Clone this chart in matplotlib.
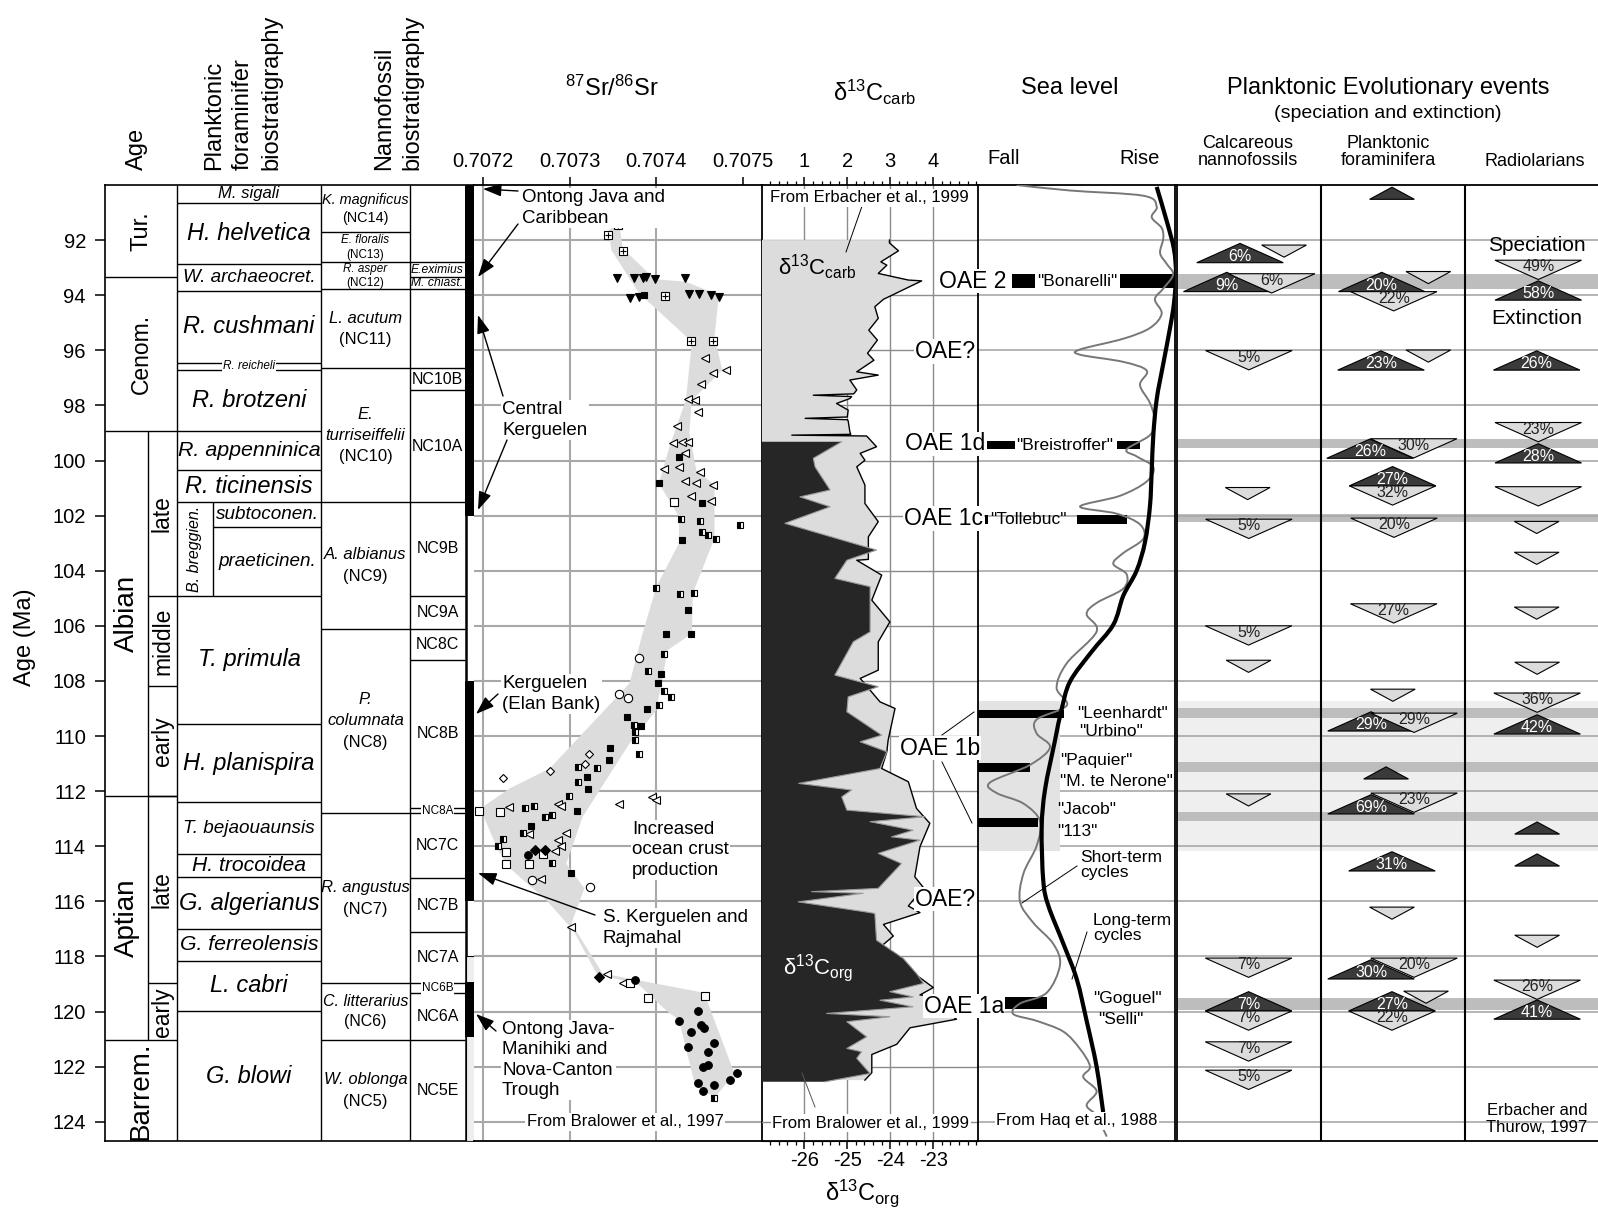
import matplotlib
matplotlib.use('Agg')
import matplotlib.pyplot as plt
from matplotlib.patches import Polygon, PathPatch
from matplotlib.path import Path
from matplotlib.ticker import MultipleLocator

plt.rcParams['font.family'] = ['Liberation Sans', 'DejaVu Sans']
plt.rcParams['mathtext.default'] = 'regular'
plt.rcParams['axes.unicode_minus'] = False

# ---------------------------------------------------------------- data
age_ticks = [92, 94, 96, 98, 100, 102, 104, 106, 108, 110, 112, 114, 116, 118, 120, 122, 124]
AGE_TOP, AGE_BOT = 90.0, 124.7

stage_names = ['Tur.', 'Cenom.', 'Albian', 'Aptian', 'Barrem.']
stage_bounds = [90.0, 93.35, 98.92, 112.17, 121.04, 124.7]
substage_names = ['late', 'middle', 'early', 'late', 'early']
substage_bounds = [98.92, 104.9, 108.2, 112.17, 118.98, 121.04]

foram_names = ['M. sigali', 'H. helvetica', 'W. archaeocret.', 'R. cushmani', 'R. reicheli',
               'R. brotzeni', 'R. appenninica', 'R. ticinensis', 'subtoconen.', 'praeticinen.',
               'T. primula', 'H. planispira', 'T. bejaouaunsis', 'H. trocoidea', 'G. algerianus',
               'G. ferreolensis', 'L. cabri', 'G. blowi']
foram_bounds = [90.0, 90.65, 92.88, 93.85, 96.45, 96.72, 98.92, 100.35, 101.52, 102.42,
                104.9, 109.58, 112.39, 114.29, 115.13, 117.0, 118.15, 119.99, 124.7]
breggien_name = 'B. breggien.'
breggien_range = [101.52, 104.9]

nanno_names = ['K. magnificus', 'E. floralis', 'R. asper', 'L. acutum', 'E.\nturriseiffelii',
               'A. albianus', 'P.\ncolumnata', 'R. angustus', 'C. litterarius', 'W. oblonga']
nanno_codes = ['(NC14)', '(NC13)', '(NC12)', '(NC11)', '(NC10)', '(NC9)', '(NC8)', '(NC7)',
               '(NC6)', '(NC5)']
nanno_bounds = [90.0, 91.72, 92.81, 93.79, 96.66, 101.52, 106.1, 112.81, 118.98, 121.04, 124.7]

nc_names = ['', 'E.eximius', 'M. chiast.', '', 'NC10B', 'NC10A', 'NC9B', 'NC9A', 'NC8C', 'NC8B',
            'NC8A', 'NC7C', 'NC7B', 'NC7A', 'NC6B', 'NC6A', 'NC5E']
nc_bounds = [90.0, 92.81, 93.33, 93.79, 96.66, 97.45, 101.52, 104.9, 106.1, 107.25, 112.6,
             112.81, 115.17, 117.13, 118.98, 119.34, 121.04, 124.7]

lip_top = [90.0, 108.0, 118.92]
lip_bot = [102.0, 116.0, 120.92]
lip_light = [118.0, 124.7]

# 87Sr/86Sr
sr_ticks = [0.7072, 0.7073, 0.7074, 0.7075]
sr_ticklabels = ['0.7072', '0.7073', '0.7074', '0.7075']
sr_env_age = [91.64, 91.34, 92.29, 93.42, 93.51, 94.0, 95.51, 96.72, 97.81, 99.01, 100.35, 100.89,
              102.82, 104.82, 106.28, 106.88, 109.06, 110.27, 112.93, 114.63, 115.53, 116.8,
              118.62, 119.32, 122.25, 123.13,
              122.6, 120.31, 119.95, 119.04, 118.62, 117.05, 115.96, 114.69, 113.9, 112.63,
              111.9, 111.18, 108.09, 106.28, 104.58, 103.01, 102.04, 100.83, 99.5, 97.81, 95.69,
              93.93, 92.36]
sr_env_val = [0.707345, 0.707357, 0.707361, 0.707398, 0.707434, 0.707472, 0.707467, 0.707476,
              0.707441, 0.707438, 0.707446, 0.707467, 0.707467, 0.707442, 0.707441, 0.707413,
              0.707400, 0.707369, 0.707315, 0.707296, 0.707317, 0.707302, 0.707338, 0.707455,
              0.707490, 0.707467,
              0.707444, 0.707426, 0.707411, 0.707380, 0.707331, 0.707304, 0.707273, 0.707227,
              0.707214, 0.707197, 0.707231, 0.707277, 0.707369, 0.707384, 0.707400, 0.707426,
              0.707426, 0.707403, 0.707415, 0.707434, 0.707441, 0.707380, 0.707348]

sr_boxplus_age = [91.47, 91.83, 92.41, 94.03, 95.65, 95.65]
sr_boxplus_val = [0.707356, 0.707344, 0.707361, 0.70741, 0.70744, 0.707465]
sr_tridown_age = [93.39, 93.39, 93.39, 93.35, 93.42, 93.39, 93.94, 93.94, 94.0, 94.1, 94.08, 94.08]
sr_tridown_val = [0.707354, 0.707374, 0.707384, 0.707388, 0.707398, 0.707433, 0.707438, 0.707449,
                  0.707463, 0.707369, 0.70738, 0.707472]
sr_sqfill_age = [94.0, 99.89, 100.81, 101.53, 102.89, 105.41, 106.3, 106.3, 107.75, 108.07, 109.03,
                 109.3, 109.64, 110.43, 110.87, 111.48, 111.94, 112.72, 113.27, 114.97]
sr_sqfill_val = [0.707386, 0.707426, 0.707403, 0.707453, 0.707429, 0.707437, 0.707411, 0.70744,
                 0.707405, 0.707402, 0.707389, 0.707366, 0.707382, 0.707347, 0.707345, 0.70732,
                 0.707321, 0.707308, 0.707255, 0.707301]
sr_trileft_age = [96.27, 96.72, 96.84, 97.24, 97.75, 97.81, 98.25, 98.75, 99.38, 99.32, 99.32, 99.72,
                  100.32, 100.25, 100.41, 100.74, 100.83, 100.89, 101.28, 101.46, 112.45, 112.23,
                  112.33, 112.57, 112.45, 112.53, 113.57, 113.53, 113.78, 114.01, 114.19, 115.2,
                  116.93, 118.64, 118.96]
sr_trileft_val = [0.707456, 0.70748, 0.707465, 0.707451, 0.707436, 0.707444, 0.707448, 0.707424,
                  0.707419, 0.70743, 0.707437, 0.707433, 0.707409, 0.707426, 0.70745, 0.707433,
                  0.707446, 0.707465, 0.70744, 0.707463, 0.707357, 0.707395, 0.707399, 0.70723,
                  0.707286, 0.70729, 0.707253, 0.707296, 0.707287, 0.70729, 0.707283, 0.707267,
                  0.707302, 0.707343, 0.707362]
sr_sqopen_age = [101.5, 112.72, 112.75, 114.22, 114.28, 114.63, 114.63, 118.96, 119.51, 119.43]
sr_sqopen_val = [0.70742, 0.707195, 0.70722, 0.707226, 0.707269, 0.707227, 0.707253, 0.707369,
                 0.70739, 0.707456]
sr_sqhalf_age = [102.13, 102.2, 102.35, 102.59, 102.71, 102.85, 104.64, 104.83, 104.8, 107.03,
                 107.63, 108.36, 108.58, 108.88, 109.6, 109.87, 110.15, 110.66, 111.12, 111.17,
                 111.66, 112.18, 112.61, 112.54, 112.94, 112.87, 113.51, 113.75, 113.98, 114.61,
                 123.15]
sr_sqhalf_val = [0.707428, 0.70745, 0.707497, 0.707453, 0.707459, 0.707469, 0.7074, 0.707427,
                 0.707443, 0.707409, 0.70739, 0.707409, 0.707417, 0.707403, 0.707374, 0.707375,
                 0.707375, 0.70738, 0.707309, 0.707331, 0.707309, 0.707299, 0.707249, 0.707259,
                 0.707272, 0.70728, 0.707246, 0.707223, 0.707217, 0.70728, 0.707467]
sr_circopen_age = [107.18, 108.49, 108.61, 115.21, 115.48]
sr_circopen_val = [0.70738, 0.707357, 0.707367, 0.707256, 0.707323]
sr_diaopen_age = [110.67, 111.0, 111.27, 111.54]
sr_diaopen_val = [0.707322, 0.707318, 0.707277, 0.707223]
sr_diafill_age = [114.13, 114.13, 118.74]
sr_diafill_val = [0.70726, 0.707272, 0.707334]
sr_circfill_age = [114.31, 118.86, 119.97, 120.34, 120.75, 120.49, 120.61, 121.16, 121.3, 121.48,
                   121.95, 122.03, 122.22, 122.59, 122.67, 122.49, 122.87]
sr_circfill_val = [0.707252, 0.707375, 0.707448, 0.707426, 0.70744, 0.707451, 0.707455, 0.707467,
                   0.707437, 0.707459, 0.707459, 0.707454, 0.707493, 0.707448, 0.707466, 0.707485,
                   0.707454]

# d13C carb (top axis) and org (bottom axis)
carb_ticks = [1, 2, 3, 4]
org_ticks = [-26, -25, -24, -23]
carb_age = [92.0, 92.1, 92.39, 92.79, 92.91, 93.21, 93.45, 93.48, 94.15, 94.42, 94.84, 95.27,
            95.63, 96.11, 96.36, 96.78, 96.9, 97.08, 97.44, 97.58, 97.63, 97.68, 97.75, 97.93,
            98.17, 98.42, 98.47, 98.52, 98.56, 98.96, 99.05, 99.08, 99.11, 99.5, 99.74, 99.99,
            100.23, 100.89, 101.56, 102.22, 102.77, 103.59, 103.62, 104.16, 105.07, 105.86,
            106.58, 107.61, 107.91, 108.76, 109.0, 110.15, 110.57, 111.18, 111.66, 112.63,
            113.17, 114.02, 115.11, 115.5, 116.17, 116.41, 116.84, 117.26, 117.62, 117.93,
            118.59, 119.13, 119.4, 119.5, 119.74, 120.28, 120.59, 121.19, 121.56, 122.22, 122.49]
carb_val = [2.98, 2.98, 3.19, 2.78, 2.92, 2.72, 3.42, 3.73, 2.84, 2.64, 2.72, 2.5, 2.7, 2.47,
            2.62, 2.22, 2.72, 2.06, 2.22, 2.15, 1.21, 2.1, 2.06, 1.75, 2.02, 2.0, 1.02, 2.0, 2.02,
            2.06, 2.08, 0.71, 2.45, 2.68, 2.3, 2.41, 2.22, 2.41, 2.41, 2.72, 2.49, 2.49, 2.22,
            2.8, 2.57, 2.99, 2.72, 2.72, 2.3, 2.76, 3.11, 2.95, 2.92, 2.8, 3.42, 3.61, 3.92, 3.69,
            3.57, 3.77, 3.42, 3.69, 2.84, 3.07, 2.8, 3.15, 3.53, 4.0, 3.69, 4.62, 4.04, 4.54,
            3.46, 3.15, 2.57, 2.57, 2.41]
org_age = [99.32, 99.92, 100.23, 101.07, 101.32, 101.68, 102.28, 103.25, 103.62, 104.28, 104.58,
           106.22, 106.58, 107.79, 108.21, 108.58, 109.12, 109.97, 110.21, 110.57, 111.18,
           111.72, 111.96, 112.21, 112.69, 112.93, 113.11, 113.42, 113.66, 113.78, 114.26,
           114.63, 115.53, 115.65, 115.71, 116.02, 116.38, 116.44, 117.41, 118.07, 118.62,
           118.98, 119.28, 119.47, 119.59, 119.83, 120.07, 120.19, 120.37, 120.92, 121.34,
           121.46, 121.7, 122.25, 122.55]
org_val = [-25.13, -25.79, -25.75, -25.4, -26.1, -25.4, -26.45, -24.32, -25.01, -25.29, -24.47,
           -24.47, -24.86, -25.29, -24.28, -24.98, -25.01, -24.2, -24.7, -24.08, -24.24, -26.13,
           -24.9, -25.13, -25.01, -23.19, -24.47, -23.47, -23.97, -23.31, -24.28, -23.74,
           -24.28, -25.83, -24.63, -26.14, -24.59, -24.36, -24.32, -23.7, -23.39, -23.23,
           -24.01, -23.47, -24.24, -23.47, -25.48, -24.01, -25.01, -24.55, -25.01, -24.67,
           -24.78, -24.47, -25.52]
ORG_OFFSET = 27.0   # d13C_org axis = d13C_carb axis - 27

oae_labels = ['OAE 2', 'OAE?', 'OAE 1d', 'OAE 1c', 'OAE 1b', 'OAE?', 'OAE 1a']
oae_age = [93.49, 96.05, 99.4, 102.1, 110.44, 115.92, 119.8]

# sea level (relative, 0 = fall ... 99 = rise)
sl_long_age = [90.07, 91.3, 92.34, 93.25, 94.28, 95.19, 96.49, 97.78, 99.08, 100.37, 101.67,
               102.97, 104.0, 104.91, 105.96, 106.95, 108.03, 109.1, 110.16, 111.94, 113.34,
               115.25, 116.15, 117.54, 118.82, 120.34, 122.0, 123.65]
sl_long_val = [89.8, 94.8, 98.5, 99.5, 98.5, 96.5, 93.1, 89.8, 88.1, 87.3, 86.4, 83.9, 79.7, 73.0,
               68.0, 57.0, 46.2, 41.8, 38.7, 33.7, 32.0, 32.8, 35.3, 42.9, 49.6, 54.6, 59.6, 62.9]
sl_short_age = [90.0, 90.2, 90.39, 90.78, 91.17, 91.56, 91.95, 92.47, 92.86, 93.25, 93.76, 94.15,
                94.67, 95.19, 95.58, 95.97, 96.16, 96.42, 96.74, 97.26, 97.91, 98.56, 99.08,
                99.6, 99.85, 100.24, 100.76, 101.28, 101.67, 101.93, 102.32, 102.84, 103.36,
                103.75, 104.13, 104.65, 105.17, 105.58, 106.21, 107.36, 108.25, 108.89, 109.4,
                109.91, 110.41, 111.05, 111.69, 112.07, 112.45, 113.09, 113.98, 115.0, 116.01,
                116.78, 117.54, 118.31, 119.32, 119.71, 120.09, 120.34, 120.73, 121.36, 122.0,
                122.38, 122.89, 123.4, 123.78, 124.54]
sl_short_val = [19.4, 46.2, 83.1, 89.8, 87.3, 92.3, 93.1, 91.5, 94.8, 98.1, 93.1, 88.9, 92.3,
                86.4, 73.0, 51.3, 51.3, 73.0, 84.8, 81.4, 86.4, 88.9, 86.4, 74.7, 79.7, 88.1,
                84.8, 71.4, 51.3, 69.7, 81.4, 83.1, 73.0, 68.0, 74.7, 73.0, 59.6, 54.6, 59.6,
                44.6, 39.5, 44.6, 29.5, 29.5, 36.2, 26.1, 6.0, 9.4, 22.8, 31.2, 29.5, 22.8, 21.1,
                27.8, 37.8, 41.2, 34.5, 21.1, 17.7, 29.5, 42.9, 51.3, 56.3, 52.9, 59.6, 54.6,
                59.6, 64.7]
slbar_age = [93.49, 93.49, 99.44, 99.44, 102.15, 102.15, 109.2, 111.13, 113.13, 119.68]
slbar_x0 = [16.9, 71.4, 4.4, 69.7, 3.5, 49.6, -1.5, -1.5, -1.5, 11.9]
slbar_x1 = [28.6, 98.5, 18.6, 81.4, 5.2, 74.7, 43.0, 26.1, 30.2, 34.5]
slbar_h = [0.5, 0.5, 0.26, 0.26, 0.33, 0.33, 0.3, 0.32, 0.32, 0.44]
sl_box_age = [108.73, 114.18]
sl_box_val = [-1.5, 41.0]

# planktonic evolutionary events: column (0 nanno, 1 foram, 2 radiolaria)
ev_x = [0.441, 0.746, 0.660, 0.349, 0.502, 0.494, 0.502, 0.50, 0.50, 0.50, 0.50, 0.50, 0.50, 0.50, 0.50,
        1.494, 1.746, 1.423, 1.506, 1.418, 1.746, 1.342, 1.644, 1.498, 1.498, 1.508, 1.506, 1.50,
        1.349, 1.647, 1.453, 1.349, 1.647, 1.494, 1.494, 1.349, 1.647, 1.73, 1.494, 1.494,
        2.508, 2.508, 2.497, 2.508, 2.508, 2.508, 2.497, 2.497, 2.497, 2.50, 2.50, 2.50, 2.50,
        2.50, 2.50, 2.50, 2.50]
ev_age = [92.82, 92.18, 93.22, 93.87, 96.01, 100.98, 102.13, 106.0, 107.25, 112.1, 118.06, 119.98,
          119.98, 121.1, 122.13,
          90.52, 93.14, 93.87, 93.87, 96.72, 95.99, 99.92, 99.21, 100.92, 100.92, 102.09, 105.2,
          108.3, 109.82, 109.17, 111.56, 112.83, 112.07, 114.9, 116.21, 118.82, 118.06, 119.26,
          119.98, 119.98,
          92.73, 94.18, 96.72, 98.62, 100.09, 100.95, 102.21, 103.33, 105.32, 107.32, 108.44,
          109.93, 113.56, 114.72, 117.23, 118.86, 120.28]
ev_kind = ['S', 'E', 'E', 'S', 'E', 'E', 'E', 'E', 'E', 'E', 'E', 'S', 'E', 'E', 'E',
           'S', 'E', 'S', 'E', 'S', 'E', 'S', 'E', 'S', 'E', 'E', 'E', 'E', 'S', 'E', 'S', 'S',
           'E', 'S', 'E', 'S', 'E', 'E', 'S', 'E',
           'E', 'S', 'S', 'E', 'S', 'E', 'E', 'E', 'E', 'E', 'E', 'S', 'S', 'S', 'E', 'E', 'S']
ev_big = [1, 0, 1, 1, 1, 0, 1, 1, 0, 0, 1, 1, 1, 1, 1,
          0, 0, 1, 1, 1, 0, 1, 1, 1, 1, 1, 1, 0, 1, 1, 0, 1, 1, 1, 0, 1, 1, 0, 1, 1,
          1, 1, 1, 1, 1, 1, 0, 0, 0, 0, 1, 1, 0, 0, 0, 1, 1]
ev_label = ['6%', '', '6%', '9%', '5%', '', '5%', '5%', '', '', '7%', '7%', '7%', '7%', '5%',
            '', '', '20%', '22%', '23%', '', '26%', '30%', '27%', '32%', '20%', '27%', '', '29%',
            '29%', '', '69%', '23%', '31%', '', '30%', '20%', '', '27%', '22%',
            '49%', '58%', '26%', '23%', '28%', '', '', '', '', '', '36%', '42%', '', '', '', '26%',
            '41%']
ev_band_top = [93.23, 99.22, 101.93, 109.0, 110.95, 112.75, 119.5]
ev_band_bot = [93.78, 99.53, 102.25, 109.35, 111.3, 113.1, 119.95]
ev_lightbox = [108.73, 114.18]

# ---------------------------------------------------------------- layout helpers
W, H = 1598, 1212
TOP, BOT = 185, 1141
fig = plt.figure(figsize=(W / 100, H / 100), dpi=100)
fig.patch.set_facecolor('white')


def rect(x0, x1):
    return [x0 / W, 1 - BOT / H, (x1 - x0) / W, (BOT - TOP) / H]


def smooth_line(axis, xs, ys, **kw):
    """Draw a smooth curve passing through every data point (cubic Bezier segments)."""
    pts = list(zip(xs, ys))
    n = len(pts)
    verts = [pts[0]]
    codes = [Path.MOVETO]
    for i in range(n - 1):
        p0 = pts[i - 1] if i > 0 else pts[i]
        p1 = pts[i]
        p2 = pts[i + 1]
        p3 = pts[i + 2] if i + 2 < n else pts[i + 1]
        c1 = (p1[0] + (p2[0] - p0[0]) / 6.0, p1[1] + (p2[1] - p0[1]) / 6.0)
        c2 = (p2[0] - (p3[0] - p1[0]) / 6.0, p2[1] - (p3[1] - p1[1]) / 6.0)
        verts += [c1, c2, p2]
        codes += [Path.CURVE4, Path.CURVE4, Path.CURVE4]
    axis.add_patch(PathPatch(Path(verts, codes), fill=False, **kw))


GRID = '#a8a8a8'
WB = dict(facecolor='white', edgecolor='none', pad=1.0)

# ---------------------------------------------------------------- stratigraphic columns
ax = fig.add_axes(rect(105, 474))
ax.set_zorder(2)
ax.patch.set_visible(False)
ax.set_xlim(105, 474)
ax.set_ylim(AGE_BOT, AGE_TOP)
ax.set_xticks([])
ax.set_yticks(age_ticks)
ax.set_yticklabels([str(a) for a in age_ticks])
ax.tick_params(axis='y', length=7.2, width=1.1, labelsize=14.5, pad=6.5)
ax.spines['right'].set_visible(False)
for s in ['left', 'top', 'bottom']:
    ax.spines[s].set_linewidth(1.2)

LW = 1.0
ax.vlines([177, 321, 410], AGE_TOP, AGE_BOT, color='k', lw=LW)
ax.vlines(465.5, AGE_TOP, AGE_BOT, color='k', lw=1.8)
ax.vlines(148, substage_bounds[0], substage_bounds[-1], color='k', lw=LW)
ax.vlines(213, breggien_range[0], breggien_range[1], color='k', lw=LW)
ax.hlines(stage_bounds[1:-1], 105, 177, color='k', lw=LW)
ax.hlines(substage_bounds[1:-1], 148, 177, color='k', lw=LW)
for b in foram_bounds[1:-1]:
    ax.hlines(b, 213 if b == 102.42 else 177, 321, color='k', lw=LW)
ax.hlines(nanno_bounds[1:-1], 321, 410, color='k', lw=LW)
ax.hlines(nc_bounds[1:-1], 410, 465, color='k', lw=LW)

stage_fs = [17, 16.5, 20, 20, 20]
for i, nm in enumerate(stage_names):
    mid = 0.5 * (stage_bounds[i] + stage_bounds[i + 1])
    xc = 126.5 if nm in ('Albian', 'Aptian') else 141
    ax.text(xc, mid, nm, rotation=90, ha='center', va='center', fontsize=stage_fs[i])
for i, nm in enumerate(substage_names):
    mid = 0.5 * (substage_bounds[i] + substage_bounds[i + 1])
    ax.text(162.5, mid, nm, rotation=90, ha='center', va='center', fontsize=16.5)

foram_fs = [12, 17, 13.6, 17, 8.5, 17, 15.4, 17, 13.6, 13.6, 17, 17, 13.6, 15.2, 17, 15.3, 17, 17]
for i, nm in enumerate(foram_names):
    mid = 0.5 * (foram_bounds[i] + foram_bounds[i + 1])
    xc = 267 if nm in ('subtoconen.', 'praeticinen.') else 249
    kw = dict(bbox=dict(facecolor='white', edgecolor='none', pad=0.5)) if nm == 'R. reicheli' else {}
    ax.text(xc, mid, nm, ha='center', va='center', fontsize=foram_fs[i], style='italic', **kw)
ax.text(195, 0.5 * sum(breggien_range), breggien_name, rotation=90, ha='center', va='center',
        fontsize=11.5, style='italic')

nanno_fs = [10.4, 8.4, 8.4, 12, 12, 12, 12, 12, 11.5, 12]
for i, nm in enumerate(nanno_names):
    mid = 0.5 * (nanno_bounds[i] + nanno_bounds[i + 1])
    lines = nm.split('\n') + [nanno_codes[i]]
    n = len(lines)
    pitch = nanno_fs[i] * 1.389 * 1.27 / 27.55
    for j, ln in enumerate(lines):
        yy = mid + (j - (n - 1) / 2) * pitch
        ax.text(365.5, yy, ln, ha='center', va='center', fontsize=nanno_fs[i],
                style='normal' if ln.startswith('(') else 'italic')

for i, nm in enumerate(nc_names):
    if not nm:
        continue
    mid = 0.5 * (nc_bounds[i] + nc_bounds[i + 1])
    if nm in ('E.eximius', 'M. chiast.'):
        ax.text(411, mid, nm, ha='left', va='center', fontsize=8.7, style='italic')
    elif nm in ('NC8A', 'NC6B'):
        ax.text(437.5, mid, nm, ha='center', va='center', fontsize=8.5,
                bbox=dict(facecolor='white', edgecolor='none', pad=0.3))
    else:
        ax.text(437.5, mid, nm, ha='center', va='center', fontsize=11.5)

# LIP bars
ax.bar(470.2, lip_light[1] - lip_light[0], bottom=lip_light[0], width=8.6, color='#eeeeee',
       edgecolor='k', lw=0.8, zorder=3)
ax.bar([469.8] * 3, [b - t for t, b in zip(lip_top, lip_bot)], bottom=lip_top, width=8.8,
       color='k', zorder=4)

# ---------------------------------------------------------------- 87Sr/86Sr panel
PXS = 867000.0
SR_L = 0.7072 - 9 / PXS
SR_R = 0.7072 + 279 / PXS
axs = fig.add_axes(rect(474, 762))
axs.set_zorder(3)
axs.patch.set_visible(False)
axs.set_xlim(SR_L, SR_R)
axs.set_ylim(AGE_BOT, AGE_TOP)
axs.xaxis.tick_top()
axs.set_xticks(sr_ticks)
axs.set_xticklabels(sr_ticklabels)
axs.set_yticks([])
axs.tick_params(axis='x', length=5.8, width=1.1, labelsize=14.5, pad=4)
axs.spines['left'].set_visible(False)
for s in ['right', 'top', 'bottom']:
    axs.spines[s].set_linewidth(1.3)
axs.vlines(sr_ticks[:3], AGE_TOP, AGE_BOT, color=GRID, lw=1.5, zorder=0)
axs.hlines(age_ticks, SR_L, SR_R, color=GRID, lw=1.5, zorder=0)
axs.add_patch(Polygon(list(zip(sr_env_val, sr_env_age)), closed=True, facecolor='#dcdcdc',
                      edgecolor='none', zorder=1))
mk = dict(linestyle='none', mec='k', mew=0.8, zorder=3)
axs.plot(sr_boxplus_val, sr_boxplus_age, marker='s', ms=5.5, mfc='white', **mk)
axs.plot(sr_boxplus_val, sr_boxplus_age, marker='+', ms=5, **mk)
axs.plot(sr_tridown_val, sr_tridown_age, marker='v', ms=5.5, mfc='k', **mk)
axs.plot(sr_sqfill_val, sr_sqfill_age, marker='s', ms=5, mfc='k', **mk)
axs.plot(sr_trileft_val, sr_trileft_age, marker='<', ms=5.5, mfc='white', **mk)
axs.plot(sr_sqopen_val, sr_sqopen_age, marker='s', ms=5.5, mfc='white', **mk)
axs.plot(sr_sqhalf_val, sr_sqhalf_age, marker='s', ms=5, fillstyle='left', mfc='k',
         markerfacecoloralt='white', **mk)
axs.plot(sr_circopen_val, sr_circopen_age, marker='o', ms=6, mfc='white', **mk)
axs.plot(sr_diaopen_val, sr_diaopen_age, marker='D', ms=4.5, mfc='white', **mk)
axs.plot(sr_diafill_val, sr_diafill_age, marker='D', ms=5, mfc='k', **mk)
axs.plot(sr_circfill_val, sr_circfill_age, marker='o', ms=5.5, mfc='k', **mk)

# ---------------------------------------------------------------- d13C panel
axc = fig.add_axes(rect(762, 978))
axc.set_zorder(5)
axc.patch.set_visible(False)
axc.set_xlim(0.016, 5.04)
axc.set_ylim(AGE_BOT, AGE_TOP)
axc.xaxis.tick_top()
axc.set_xticks(carb_ticks)
axc.set_xticklabels([str(t) for t in carb_ticks])
axc.xaxis.set_minor_locator(MultipleLocator(0.2))
axc.set_yticks([])
axc.tick_params(axis='x', which='major', length=5.8, width=1.1, labelsize=14.5, pad=4)
axc.tick_params(axis='x', which='minor', length=3, width=0.9)
axc.spines['left'].set_visible(False)
for s in ['right', 'top', 'bottom']:
    axc.spines[s].set_linewidth(1.3)
axc.vlines(carb_ticks, AGE_TOP, AGE_BOT, color='#8c8c8c', lw=1, zorder=0)
axc.hlines(age_ticks, 0, 5.04, color='#8c8c8c', lw=1, zorder=0)
axc.fill_betweenx(carb_age, 0, carb_val, facecolor='#dcdcdc', edgecolor='none', zorder=1)
axc.plot(carb_val, carb_age, color='k', lw=1.0, zorder=2)
org_x = [v + ORG_OFFSET for v in org_val]
axc.fill_betweenx(org_age, 0, org_x, facecolor='#262626', edgecolor='none', zorder=3)
axc.plot(org_x, org_age, color='#9a9a9a', lw=0.8, zorder=3)
sec = axc.secondary_xaxis('bottom', functions=(lambda x: x - ORG_OFFSET, lambda x: x + ORG_OFFSET))
sec.set_xticks(org_ticks)
sec.set_xticklabels([str(t) for t in org_ticks])
sec.xaxis.set_minor_locator(MultipleLocator(0.2))
sec.tick_params(axis='x', which='major', length=5.8, width=1.1, labelsize=14.5, pad=1.5)
sec.tick_params(axis='x', which='minor', length=3, width=0.9)

oae_right = [5.71, 4.99, 5.2, 5.16, 5.09, 4.99, 5.65]
for lab, a, xr in zip(oae_labels, oae_age, oae_right):
    axc.text(xr, a, lab, ha='right', va='center', fontsize=16.5, clip_on=False,
             bbox=dict(facecolor='white', edgecolor='none', pad=0.5), zorder=6)

# ---------------------------------------------------------------- sea level panel
axl = fig.add_axes(rect(978, 1175))
axl.set_zorder(4)
axl.patch.set_visible(False)
axl.set_xlim(0, 99)
axl.set_ylim(AGE_BOT, AGE_TOP)
axl.set_xticks([])
axl.set_yticks([])
axl.spines['left'].set_visible(False)
for s in ['right', 'top', 'bottom']:
    axl.spines[s].set_linewidth(1.3)
axl.hlines(age_ticks, 0, 99, color=GRID, lw=1.2, zorder=0)
axl.fill_betweenx(sl_box_age, sl_box_val[0], sl_box_val[1], facecolor='#e3e3e3',
                  edgecolor='none', zorder=0.5)
axl.barh(slbar_age, [b - a for a, b in zip(slbar_x0, slbar_x1)], left=slbar_x0, height=slbar_h,
         color='k', zorder=2)
smooth_line(axl, sl_short_val, sl_short_age, edgecolor='#777777', lw=1.4, zorder=3)
smooth_line(axl, sl_long_val, sl_long_age, edgecolor='k', lw=3.0, zorder=4, capstyle='butt')

# ---------------------------------------------------------------- evolutionary events panel
axe = fig.add_axes(rect(1177, 1598))
axe.set_zorder(3)
axe.patch.set_visible(False)
axe.set_xlim(0.004, 2.922)
axe.set_ylim(AGE_BOT, AGE_TOP)
axe.set_xticks([])
axe.set_yticks([])
axe.spines['right'].set_visible(False)
for s in ['left', 'top', 'bottom']:
    axe.spines[s].set_linewidth(1.3)
axe.axhspan(ev_lightbox[0], ev_lightbox[1], color='#efefef', zorder=0, lw=0)
for t, b in zip(ev_band_top, ev_band_bot):
    axe.axhspan(t, b, color='#bdbdbd', zorder=0.5, lw=0)
axe.hlines(age_ticks, 0, 2.922, color=GRID, lw=1.2, zorder=0.7)
axe.vlines([1, 2], AGE_TOP, AGE_BOT, color='k', lw=1.5, zorder=5)

for pass_kind in ('S', 'E'):
    for x, a, k, big, lab in zip(ev_x, ev_age, ev_kind, ev_big, ev_label):
        if k != pass_kind:
            continue
        hw = 0.30 if big else 0.155
        hh = 0.70 if big else 0.44
        if k == 'S':
            pts = [(x - hw, a), (x + hw, a), (x, a - hh)]
            fc, tc, ty = '#3a3a3a', 'white', a - 0.24
        else:
            pts = [(x - hw, a), (x + hw, a), (x, a + hh)]
            fc, tc, ty = '#dcdcdc', '#222222', a + 0.24
        axe.add_patch(Polygon(pts, closed=True, facecolor=fc, edgecolor='k', lw=0.8, zorder=2))
        if lab:
            axe.text(x, ty, lab, ha='center', va='center', fontsize=11.5, color=tc, zorder=6)

axe.text(2.50, 92.2, 'Speciation', ha='center', va='center', fontsize=15, zorder=6)
axe.text(2.50, 94.85, 'Extinction', ha='center', va='center', fontsize=15, zorder=6)
axe.text(2.50, 123.9, 'Erbacher and\nThurow, 1997', ha='center', va='center', fontsize=12,
         linespacing=1.1, zorder=6)

# ---------------------------------------------------------------- overlay (headers, notes)
ov = fig.add_axes([0, 0, 1, 1])
ov.set_zorder(20)
ov.patch.set_visible(False)
ov.set_xlim(0, W)
ov.set_ylim(H, 0)
ov.axis('off')

ov.text(25, 637, 'Age (Ma)', rotation=90, ha='center', va='center', fontsize=17)
ov.text(137, 170, 'Age', rotation=90, ha='center', va='bottom', fontsize=17)
ov.text(243, 170, 'Planktonic\nforaminifer\nbiostratigraphy', rotation=90, ha='center',
        va='bottom', fontsize=17, linespacing=1.38, multialignment='left')
ov.text(398, 170, 'Nannofossil\nbiostratigraphy', rotation=90, ha='center', va='bottom',
        fontsize=17, linespacing=1.38, multialignment='left')
ov.text(612, 88, r'$\mathregular{^{87}Sr/^{86}Sr}$', ha='center', va='center', fontsize=17)
ov.text(875, 92, r'δ$\mathregular{^{13}C_{carb}}$', ha='center', va='center', fontsize=17)
ov.text(1070, 88, 'Sea level', ha='center', va='center', fontsize=17)
ov.text(1004, 158, 'Fall', ha='center', va='center', fontsize=14.5)
ov.text(1140, 158, 'Rise', ha='center', va='center', fontsize=14.5)
ov.text(1388, 88, 'Planktonic Evolutionary events', ha='center', va='center', fontsize=17)
ov.text(1388, 113, '(speciation and extinction)', ha='center', va='center', fontsize=14)
ov.text(1248, 152, 'Calcareous\nnannofossils', ha='center', va='center', fontsize=13,
        linespacing=1.0)
ov.text(1388, 152, 'Planktonic\nforaminifera', ha='center', va='center', fontsize=13,
        linespacing=1.0)
ov.text(1535, 162, 'Radiolarians', ha='center', va='center', fontsize=13)
ov.text(862, 1193, r'δ$\mathregular{^{13}C_{org}}$', ha='center', va='center', fontsize=17)

AP = dict(arrowstyle='-|>,head_length=0.8,head_width=0.28', color='k', lw=1.0,
          mutation_scale=14, shrinkA=0, shrinkB=0)
FS = 13.5
ov.text(522, 208, 'Ontong Java and\nCaribbean', ha='left', va='center', fontsize=FS,
        linespacing=1.25, bbox=WB)
ov.annotate('', xy=(483, 189), xytext=(518, 191), arrowprops=AP)
ov.annotate('', xy=(478, 277), xytext=(518, 224), arrowprops=AP)
ov.text(502, 420, 'Central\nKerguelen', ha='left', va='center', fontsize=FS, linespacing=1.25,
        bbox=WB)
ov.annotate('', xy=(478, 315), xytext=(503, 396), arrowprops=AP)
ov.annotate('', xy=(478, 510), xytext=(507, 440), arrowprops=AP)
ov.text(502, 694, 'Kerguelen\n(Elan Bank)', ha='left', va='center', fontsize=FS,
        linespacing=1.25, bbox=WB)
ov.annotate('', xy=(476, 714), xytext=(498, 694), arrowprops=AP)
ov.text(632, 850, 'Increased\nocean crust\nproduction', ha='left', va='center', fontsize=FS,
        linespacing=1.25, bbox=WB)
ov.text(603, 928, 'S. Kerguelen and\nRajmahal', ha='left', va='center', fontsize=FS,
        linespacing=1.25, bbox=WB)
ov.annotate('', xy=(478, 873), xytext=(595, 915), arrowprops=AP)
ov.text(502, 1060, 'Ontong Java-\nManihiki and\nNova-Canton\nTrough', ha='left', va='center',
        fontsize=FS, linespacing=1.25, bbox=WB)
ov.annotate('', xy=(476, 1014), xytext=(496, 1031), arrowprops=AP)
ov.text(625, 1122, 'From Bralower et al., 1997', ha='center', va='center', fontsize=12, bbox=WB)

ov.text(869, 198, 'From Erbacher et al., 1999', ha='center', va='center', fontsize=12, bbox=WB)
ov.plot([861.7, 846], [207, 252], color='k', lw=0.7)
ov.text(778, 267, r'δ$\mathregular{^{13}C_{carb}}$', ha='left', va='center', fontsize=16)
ov.text(783, 968, r'δ$\mathregular{^{13}C_{org}}$', ha='left', va='center', fontsize=16,
        color='white')
ov.text(871, 1123, 'From Bralower et al., 1999', ha='center', va='center', fontsize=12, bbox=WB)
ov.plot([802, 815], [1073, 1107], color='#555555', lw=0.7)

SFS = 12.5
ov.text(1037, 281, '"Bonarelli"', ha='left', va='center', fontsize=SFS)
ov.text(1016, 445, '"Breistroffer"', ha='left', va='center', fontsize=SFS)
ov.text(990, 520, '"Tollebuc"', ha='left', va='center', fontsize=SFS)
ov.text(1077, 714, '"Leenhardt"', ha='left', va='center', fontsize=SFS)
ov.text(1079, 732, '"Urbino"', ha='left', va='center', fontsize=SFS)
ov.text(1060, 761, '"Paquier"', ha='left', va='center', fontsize=SFS)
ov.text(1060, 781, '"M. te Nerone"', ha='left', va='center', fontsize=SFS,
        bbox=dict(facecolor='white', edgecolor='none', pad=0.3))
ov.text(1057, 810, '"Jacob"', ha='left', va='center', fontsize=SFS)
ov.text(1057, 832, '"113"', ha='left', va='center', fontsize=SFS)
ov.text(1080, 865, 'Short-term\ncycles', ha='left', va='center', fontsize=SFS, linespacing=0.95,
        bbox=WB)
ov.plot([1077, 1022], [866, 903], color='k', lw=0.7)
ov.text(1093, 928, 'Long-term\ncycles', ha='left', va='center', fontsize=SFS, linespacing=0.95,
        bbox=WB)
ov.plot([1087, 1072], [932, 979], color='k', lw=0.7)
ov.text(1093, 998, '"Goguel"', ha='left', va='center', fontsize=SFS)
ov.text(1098, 1019, '"Selli"', ha='left', va='center', fontsize=SFS)
ov.text(1077, 1121, 'From Haq et al., 1988', ha='center', va='center', fontsize=12, bbox=WB)
ov.plot([942, 974], [735, 712], color='k', lw=0.7)
ov.plot([942, 972], [762, 823], color='k', lw=0.7)

fig.savefig('out.png', dpi=100, facecolor='white')
